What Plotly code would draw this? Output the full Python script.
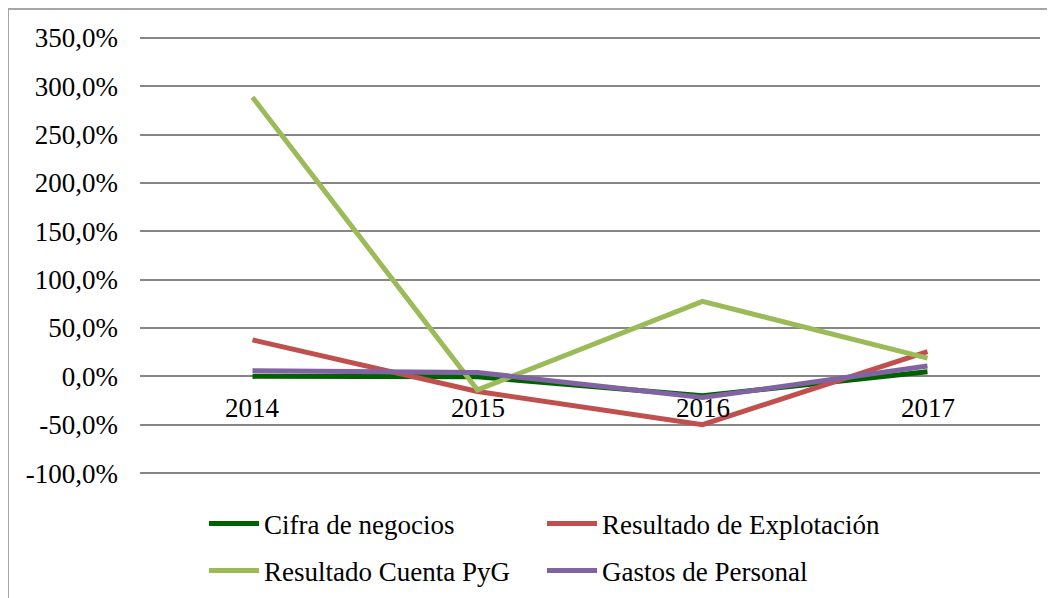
import plotly.graph_objects as go

years = ["2014", "2015", "2016", "2017"]
cifra_negocios = [0.0, -0.5, -20.0, 4.7]
resultado_explotacion = [37.7, -15.7, -50.0, 25.6]
resultado_pyg = [288.7, -14.0, 77.5, 18.8]
gastos_personal = [5.8, 4.0, -21.9, 10.8]

tick_vals = [-100, -50, 0, 50, 100, 150, 200, 250, 300, 350]
tick_text = ["-100,0%", "-50,0%", "0,0%", "50,0%", "100,0%", "150,0%",
             "200,0%", "250,0%", "300,0%", "350,0%"]

FONT = "Liberation Serif"
FS = 27
W, H = 1047, 590
ML, MR, MT, MB = 132, 15, 28, 123
PW, PH = W - ML - MR, H - MT - MB

fig = go.Figure()
series = [
    ("Cifra de negocios", cifra_negocios, "#006100", "legend", 196, 524),
    ("Resultado de Explotación", resultado_explotacion, "#C0504D", "legend2", 534, 524),
    ("Resultado Cuenta PyG", resultado_pyg, "#9BBB59", "legend3", 196, 571),
    ("Gastos de Personal", gastos_personal, "#8064A2", "legend4", 534, 571),
]
legend_layout = {}
for name, vals, col, lg, lx, ly in series:
    fig.add_trace(go.Scatter(x=years, y=vals, mode="lines", name=name,
                             line=dict(color=col, width=5), legend=lg))
    legend_layout[lg] = dict(
        x=lx / W, y=1 - (ly - 8) / H, orientation="h",
        xanchor="left", yanchor="middle", xref="container", yref="container",
        font=dict(family=FONT, size=FS, color="#000"), itemwidth=50,
        bgcolor="rgba(0,0,0,0)")

for i, yr in enumerate(years):
    fig.add_annotation(x=i, y=0, xref="x", yref="y", text=yr, showarrow=False,
                       yanchor="middle", yshift=-32,
                       font=dict(family=FONT, size=FS, color="#000"))

fig.add_shape(type="rect", xref="paper", yref="paper",
              x0=(0 - ML) / PW, x1=(W + 20 - ML) / PW,
              y0=(H - MB - (H + 20)) / PH, y1=(H - MB - 1) / PH,
              line=dict(color="#A6A6A6", width=2), layer="below")

fig.update_layout(
    width=W, height=H,
    margin=dict(l=ML, r=MR, t=MT, b=MB, autoexpand=False),
    paper_bgcolor="white", plot_bgcolor="white",
    font=dict(family=FONT, size=FS, color="#000"),
    showlegend=True,
    xaxis=dict(type="category", range=[-0.5, 3.5], showticklabels=False,
               showgrid=False, zeroline=False, showline=False, ticks=""),
    yaxis=dict(range=[-102, 352], tickvals=tick_vals, ticktext=tick_text,
               showgrid=True, gridcolor="#868686", gridwidth=2,
               zeroline=False, showline=False,
               ticks="", ticklabelstandoff=21, automargin=False,
               tickfont=dict(family=FONT, size=FS, color="#000")),
    **legend_layout,
)

fig.write_html("out.html")
